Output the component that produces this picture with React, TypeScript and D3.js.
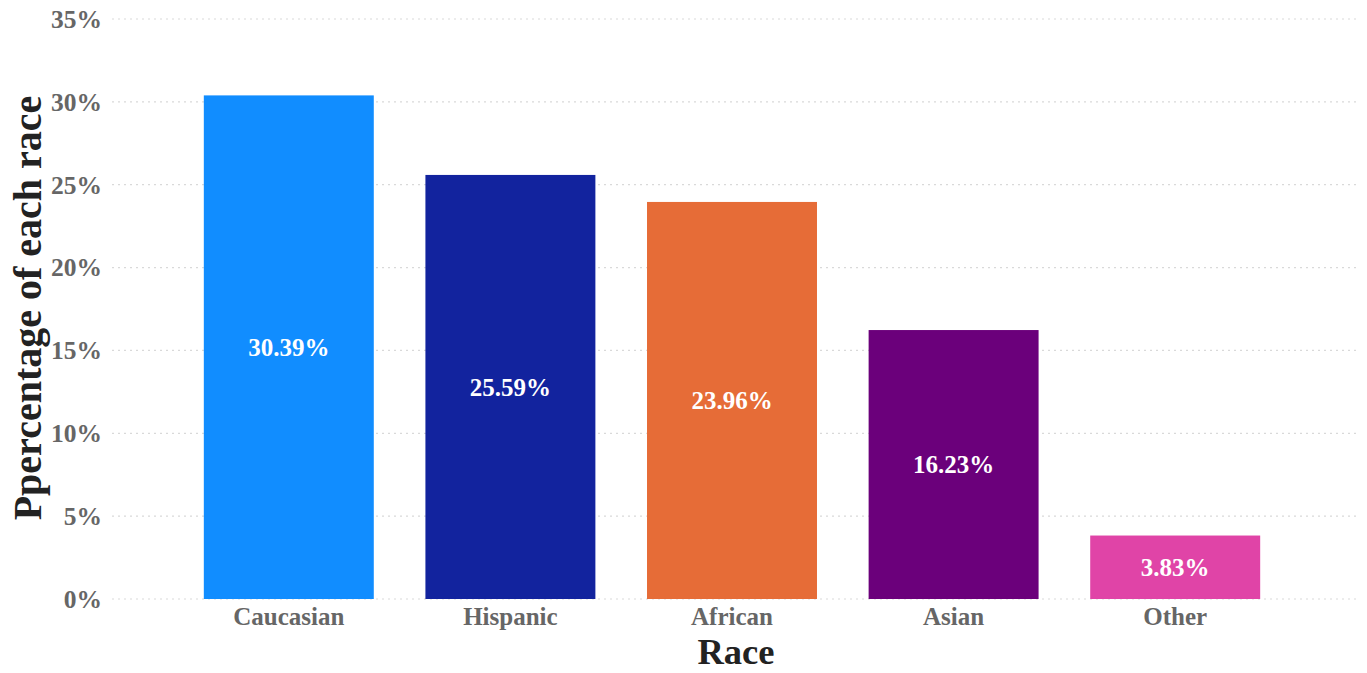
import React from "react";
import * as d3 from "d3";

const categories = ["Caucasian", "Hispanic", "African", "Asian", "Other"];
const values = [30.39, 25.59, 23.96, 16.23, 3.83];
const colors = ["#118DFF", "#12239E", "#E66C37", "#6B007B", "#E044A7"];
const yTicks = [0, 5, 10, 15, 20, 25, 30, 35];

export default function App() {
  const W = 1367, H = 673;
  const x = d3.scaleBand<string>().domain(categories).range([178, 1286]).paddingInner(0.233).paddingOuter(0.1165);
  const y = d3.scaleLinear().domain([0, 35]).range([599, 19]);
  const font = "'Liberation Serif', 'Times New Roman', serif";
  return (
    <svg width={W} height={H} style={{ position: "absolute", left: 0, top: 0, background: "#fff" }}>
      {yTicks.map((t) => (
        <g key={t}>
          <line x1={112} x2={1360} y1={y(t)} y2={y(t)} stroke="#d9d9d9" strokeWidth={1.2} strokeDasharray="2,4" />
          <text x={102} y={y(t)} dy="0.35em" textAnchor="end" fontFamily={font} fontWeight="bold" fontSize={25.5} fill="#666">
            {t}%
          </text>
        </g>
      ))}
      {categories.map((c, i) => (
        <g key={c}>
          <rect x={x(c)} y={y(values[i])} width={x.bandwidth()} height={y(0) - y(values[i])} fill={colors[i]} />
          <text x={(x(c) as number) + x.bandwidth() / 2} y={(y(values[i]) + y(0)) / 2} dy="0.35em" textAnchor="middle" fontFamily={font} fontWeight="bold" fontSize={25} fill="#fff">
            {values[i].toFixed(2)}%
          </text>
          <text x={(x(c) as number) + x.bandwidth() / 2} y={616} dy="0.35em" textAnchor="middle" fontFamily={font} fontWeight="bold" fontSize={25} fill="#666">
            {c}
          </text>
        </g>
      ))}
      <text x={736} y={664} textAnchor="middle" fontFamily={font} fontWeight="bold" fontSize={36.5} fill="#222">
        Race
      </text>
      <text transform="translate(41,308) rotate(-90)" textAnchor="middle" fontFamily={font} fontWeight="bold" fontSize={40} fill="#222">
        Ppercentage of each race
      </text>
    </svg>
  );
}
